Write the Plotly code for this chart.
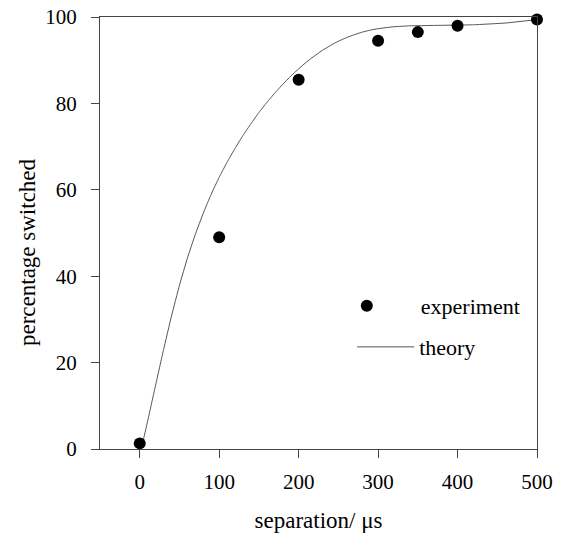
import plotly.graph_objects as go

# experimental data
exp_x = [0, 100, 200, 300, 350, 400, 500]
exp_y = [1.3, 49, 85.5, 94.5, 96.5, 98, 99.4]

# theory curve
theory_x = [0, 5, 10, 20, 30, 40, 50, 60, 70, 80, 90, 100, 110, 120, 130, 140, 150, 160, 170,
            180, 190, 200, 210, 220, 230, 240, 250, 260, 270, 280, 290, 300, 320, 340, 370,
            420, 460, 500]
theory_y = [0, 2.5, 6.5, 14.8, 23, 30.8, 37.9, 44.2, 49.7, 54.6, 59, 62.9, 66.4, 69.6, 72.6,
            75.3, 77.9, 80.2, 82.4, 84.4, 86.3, 88.0, 89.6, 91.0, 92.3, 93.4, 94.4, 95.2, 95.9,
            96.5, 96.95, 97.3, 97.75, 97.95, 98.05, 98.2, 98.6, 99.4]

x_ticks = [0, 100, 200, 300, 400, 500]
y_ticks = [0, 20, 40, 60, 80, 100]

FONT = "Liberation Serif"
AXC = "#444444"

fig = go.Figure()
fig.add_trace(go.Scatter(
    x=theory_x, y=theory_y, mode="lines", name="theory",
    line=dict(color="#555555", width=1, shape="spline", smoothing=0.3),
    legend="legend2", cliponaxis=False,
))
fig.add_trace(go.Scatter(
    x=exp_x, y=exp_y, mode="markers", name="experiment",
    marker=dict(color="black", size=12),
    legend="legend", cliponaxis=False,
))

axis_common = dict(
    showline=True, linecolor=AXC, linewidth=1, mirror=True,
    ticks="outside", ticklen=8, tickcolor=AXC, tickwidth=1,
    showgrid=False, zeroline=False, automargin=False,
    ticklabeloverflow="allow",
    tickfont=dict(family=FONT, size=21, color="black"),
)

fig.update_layout(
    width=567, height=545,
    margin=dict(l=100, r=30, t=17, b=96),
    paper_bgcolor="white", plot_bgcolor="white",
    font=dict(family=FONT, color="black"),
    xaxis=dict(range=[-50, 500], tickvals=x_ticks, ticklabelstandoff=6,
               title=dict(text="separation/ μs", font=dict(family=FONT, size=23), standoff=18),
               **axis_common),
    yaxis=dict(range=[0, 100], tickvals=y_ticks, ticklabelstandoff=10,
               **axis_common),
    annotations=[dict(text="percentage switched", textangle=-90, showarrow=False,
                      xref="paper", yref="paper", x=-0.167, y=0.456,
                      xanchor="center", yanchor="middle",
                      font=dict(family=FONT, size=23, color="black"))],
    legend=dict(x=0.487, y=0.331, xanchor="left", yanchor="middle",
                bgcolor="rgba(0,0,0,0)", font=dict(family=FONT, size=22),
                itemwidth=98),
    legend2=dict(x=0.577, y=0.236, xanchor="left", yanchor="middle",
                 bgcolor="rgba(0,0,0,0)", font=dict(family=FONT, size=22),
                 itemwidth=57),
    showlegend=True,
)

fig.write_html("out.html", config={"displayModeBar": False},
               post_script="document.body.style.margin='0';")
